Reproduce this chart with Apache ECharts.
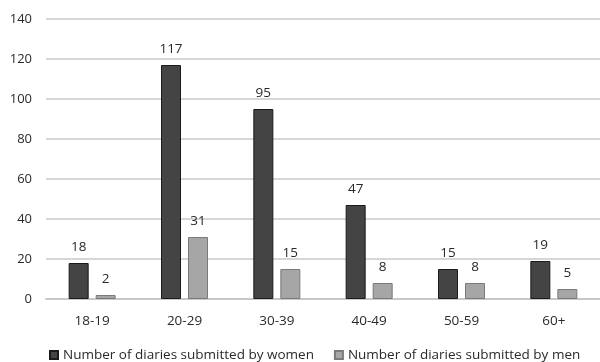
<!DOCTYPE html>
<html>
<head>
<meta charset="utf-8">
<script src="https://cdn.jsdelivr.net/npm/echarts@6/dist/echarts.min.js"></script>
<style>
  html, body { margin: 0; padding: 0; background: #fff; }
  #chart { width: 600px; height: 362px; }
</style>
</head>
<body>
<div id="chart"></div>
<script>
// Diaries submitted per age group, split by gender
const ageGroups = ['18-19', '20-29', '30-39', '40-49', '50-59', '60+'];
const women = [18, 117, 95, 47, 15, 19];
const men = [2, 31, 15, 8, 8, 5];
const seriesNames = ['Number of diaries submitted by women', 'Number of diaries submitted by men'];

const font = '"Open Sans", "Noto Sans", sans-serif';
const chart = echarts.init(document.getElementById('chart'), null, { renderer: 'canvas' });

chart.setOption({
  animation: false,
  backgroundColor: '#ffffff',
  grid: { left: 46, top: 19, width: 564, height: 280, containLabel: false },
  legend: {
    data: seriesNames,
    left: 44,
    top: 343,
    itemWidth: 8,
    itemHeight: 8,
    itemGap: 20,
    icon: 'rect',
    textStyle: { fontFamily: font, fontSize: 13.5, color: '#2a2a2a' }
  },
  xAxis: {
    type: 'category',
    data: ageGroups,
    axisLine: { lineStyle: { color: '#c8c8c8', width: 2 } },
    axisTick: { show: false },
    axisLabel: { fontFamily: font, fontSize: 13.5, color: '#2a2a2a', margin: 15 }
  },
  yAxis: {
    type: 'value',
    min: 0,
    max: 140,
    interval: 20,
    axisLine: { show: false },
    axisTick: { show: false },
    axisLabel: { fontFamily: font, fontSize: 13, color: '#2a2a2a', margin: 14 },
    splitLine: { lineStyle: { color: '#d6d6d6', width: 2 } }
  },
  series: [
    {
      name: seriesNames[0],
      type: 'bar',
      data: women,
      barWidth: 20,
      barGap: '35%',
      itemStyle: { color: '#444444', borderColor: '#1a1a1a', borderWidth: 1 },
      label: { show: true, position: 'top', distance: 9, fontFamily: font, fontSize: 13.5, color: '#2a2a2a' }
    },
    {
      name: seriesNames[1],
      type: 'bar',
      data: men,
      barWidth: 20,
      itemStyle: { color: '#a6a6a6', borderColor: '#7a7a7a', borderWidth: 1 },
      label: { show: true, position: 'top', distance: 9, fontFamily: font, fontSize: 13.5, color: '#2a2a2a' }
    }
  ]
});
</script>
</body>
</html>
